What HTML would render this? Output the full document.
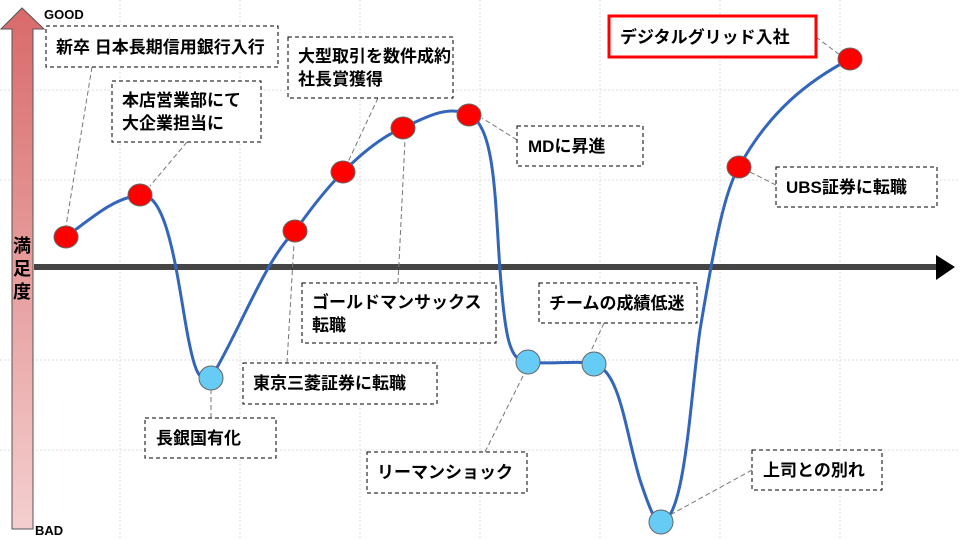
<!DOCTYPE html>
<html><head><meta charset="utf-8"><style>
html,body{margin:0;padding:0;background:#fff;}
svg{display:block;font-family:"Liberation Sans","Noto Sans CJK JP",sans-serif;}
.t{font-size:17px;font-weight:bold;fill:#000;}
.b{fill:#fff;stroke:#000;stroke-width:1;stroke-dasharray:4,3;}
.l{stroke:#777;stroke-width:1;stroke-dasharray:5,3;fill:none;}
.r{fill:#f00;stroke:#666;stroke-width:1;}
.c{fill:#66ccf5;stroke:#666;stroke-width:1;}
</style></head><body>
<svg width="960" height="540" viewBox="0 0 960 540" xmlns="http://www.w3.org/2000/svg">
<defs>
<linearGradient id="g" x1="0" y1="0" x2="0" y2="1">
<stop offset="0" stop-color="#d96a6a"/><stop offset="1" stop-color="#f4cfcf"/></linearGradient>
</defs>
<g stroke="#ddd" stroke-width="1" stroke-dasharray="2,2">
<line x1="120" y1="0" x2="120" y2="540"/><line x1="240" y1="0" x2="240" y2="540"/>
<line x1="360" y1="0" x2="360" y2="540"/><line x1="480" y1="0" x2="480" y2="540"/>
<line x1="600" y1="0" x2="600" y2="540"/><line x1="720" y1="0" x2="720" y2="540"/>
<line x1="840" y1="0" x2="840" y2="540"/>
<line x1="0" y1="90" x2="960" y2="90"/><line x1="0" y1="180" x2="960" y2="180"/>
<line x1="0" y1="360" x2="960" y2="360"/><line x1="0" y1="450" x2="960" y2="450"/>
</g>
<polygon points="12,529 12,29 1,29 22,8 44,29 33,29 33,529" fill="url(#g)" stroke="#555" stroke-width="1"/>
<text x="44" y="19" font-size="13" font-weight="bold">GOOD</text>
<text x="35" y="535" font-size="13" font-weight="bold">BAD</text>
<text x="22" y="252" font-size="18" font-weight="bold" text-anchor="middle">満</text>
<text x="22" y="275" font-size="18" font-weight="bold" text-anchor="middle">足</text>
<text x="22" y="298" font-size="18" font-weight="bold" text-anchor="middle">度</text>
<rect x="34" y="264" width="904" height="6" fill="#444"/>
<polygon points="936,255 955,267 936,280" fill="#000"/>
<path d="M66,237 C95,215 115,198 140,195 C165,192 175,260 185,320 C195,380 200,380 211,378 C240,330 265,260 295,231 C310,210 325,190 343,172 C365,150 385,135 403,128 C430,115 450,105 469,115 C495,125 495,200 500,270 C505,340 510,362 528,362 C550,365 575,360 594,364 C620,370 625,430 640,480 C650,510 655,522 661,522 C685,520 690,400 700,330 C715,240 725,190 739,167 C770,110 810,80 850,59" fill="none" stroke="#3366bb" stroke-width="3"/>
<g class="l">
<line x1="92" y1="67" x2="66" y2="226"/><line x1="187" y1="142" x2="150" y2="186"/>
<line x1="378" y1="98" x2="348" y2="162"/><line x1="517" y1="140" x2="482" y2="118"/>
<line x1="776" y1="185" x2="750" y2="172"/><line x1="816" y1="37" x2="840" y2="55"/>
<line x1="398" y1="283" x2="405" y2="140"/><line x1="287" y1="363" x2="294" y2="243"/>
<line x1="211" y1="418" x2="211" y2="390"/><line x1="604" y1="323" x2="590" y2="353"/>
<line x1="485" y1="452" x2="524" y2="374"/><line x1="752" y1="470" x2="670" y2="515"/>
</g>
<rect class="b" x="46" y="26" width="232" height="41"/><text class="t" x="56" y="53">新卒 日本長期信用銀行入行</text>
<rect class="b" x="112" y="81" width="149" height="61"/><text class="t" x="122" y="106">本店営業部にて</text><text class="t" x="122" y="129">大企業担当に</text>
<rect class="b" x="288" y="37" width="165" height="61"/><text class="t" x="298" y="62">大型取引を数件成約</text><text class="t" x="298" y="85">社長賞獲得</text>
<rect class="b" x="517" y="126" width="126" height="40"/><text class="t" x="528" y="152">MDに昇進</text>
<rect class="b" x="776" y="167" width="161" height="40"/><text class="t" x="786" y="193">UBS証券に転職</text>
<rect x="609" y="16" width="207" height="41" fill="#fff" stroke="#f00" stroke-width="3"/><text class="t" x="620" y="43">デジタルグリッド入社</text>
<rect class="b" x="302" y="283" width="194" height="60"/><text class="t" x="312" y="308">ゴールドマンサックス</text><text class="t" x="312" y="331">転職</text>
<rect class="b" x="243" y="363" width="194" height="41"/><text class="t" x="253" y="389">東京三菱証券に転職</text>
<rect class="b" x="145" y="418" width="131" height="40"/><text class="t" x="156" y="444">長銀国有化</text>
<rect class="b" x="539" y="283" width="158" height="40"/><text class="t" x="549" y="309">チームの成績低迷</text>
<rect class="b" x="367" y="452" width="160" height="41"/><text class="t" x="377" y="478">リーマンショック</text>
<rect class="b" x="752" y="450" width="130" height="40"/><text class="t" x="763" y="476">上司との別れ</text>
<g>
<ellipse class="r" cx="66" cy="237" rx="12" ry="11"/><ellipse class="r" cx="140" cy="195" rx="12" ry="11"/>
<ellipse class="r" cx="295" cy="231" rx="12" ry="11"/><ellipse class="r" cx="343" cy="172" rx="12" ry="11"/>
<ellipse class="r" cx="403" cy="128" rx="12" ry="11"/><ellipse class="r" cx="469" cy="115" rx="12" ry="11"/>
<ellipse class="r" cx="739" cy="167" rx="12" ry="11"/><ellipse class="r" cx="850" cy="59" rx="12" ry="11"/>
<ellipse class="c" cx="211" cy="378" rx="12" ry="12"/><ellipse class="c" cx="528" cy="362" rx="12" ry="12"/>
<ellipse class="c" cx="594" cy="364" rx="12" ry="12"/><ellipse class="c" cx="661" cy="522" rx="12" ry="12"/>
</g>
</svg>
</body></html>
